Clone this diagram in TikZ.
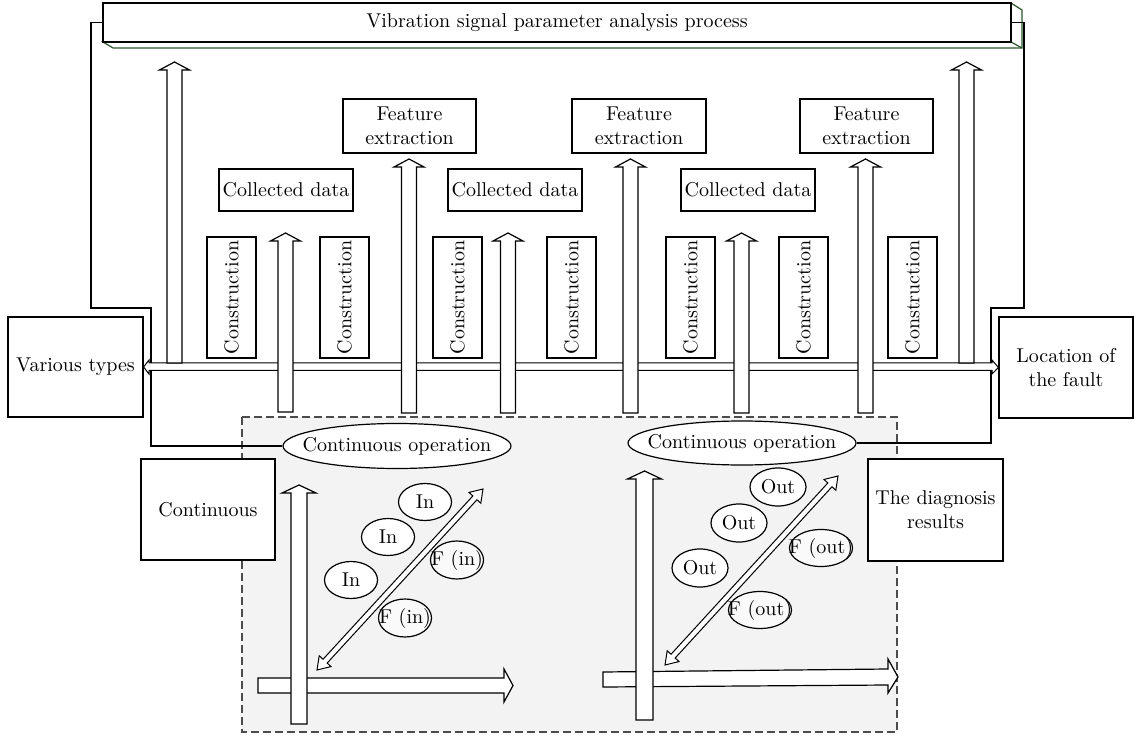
\documentclass[tikz,border=0pt]{standalone}
\usetikzlibrary{shapes.geometric,calc}
\definecolor{panelgray}{RGB}{243,243,243}
\definecolor{depthgreen}{RGB}{45,85,45}
\newcommand\vblock[5]{% cx, tip y, bottom y, half shaft, half head
  \draw[blockarrow] ({#1-#4},#3) -- ({#1-#4},{#2+8}) -- ({#1-#5},{#2+8}) -- (#1,#2) -- ({#1+#5},{#2+8}) -- ({#1+#4},{#2+8}) -- ({#1+#4},#3) -- cycle;}
\newcommand\diagarrow[2]{% double headed thin arrow between two named coordinates
  \draw[blockarrow,line width=0.5pt]
    (#1) -- ($($(#1)!6pt!(#2)$)!4pt!90:(#2)$) -- ($($(#1)!6pt!(#2)$)!1.4pt!90:(#2)$)
    -- ($($(#2)!6pt!(#1)$)!1.4pt!-90:(#1)$) -- ($($(#2)!6pt!(#1)$)!4pt!-90:(#1)$)
    -- (#2) -- ($($(#2)!6pt!(#1)$)!4pt!90:(#1)$) -- ($($(#2)!6pt!(#1)$)!1.4pt!90:(#1)$)
    -- ($($(#1)!6pt!(#2)$)!1.4pt!-90:(#2)$) -- ($($(#1)!6pt!(#2)$)!4pt!-90:(#2)$) -- cycle;}
\begin{document}
\begin{tikzpicture}[x=0.5pt,y=-0.5pt,
  every node/.style={font=\fontsize{10}{12}\selectfont},
  box/.style={draw,fill=white,line width=0.6pt,inner sep=0pt,align=center},
  sz/.style 2 args={minimum width=#1*0.5pt,minimum height=#2*0.5pt},
  ell/.style={draw,ellipse,fill=white,line width=0.6pt,inner sep=0pt},
  conn/.style={draw,line width=0.6pt},
  blockarrow/.style={draw,fill=white,line width=0.6pt,line join=miter}]
\useasboundingbox (0,0) rectangle (1134,737);

% dashed panel
\draw[line width=0.6pt,dash pattern=on 4pt off 2pt,fill=panelgray,draw=black!70] (242,417) rectangle (897,732);

% top 3D bar
\draw[depthgreen,line width=0.6pt,fill=white] (103,42) -- (113,48) -- (1022,48) -- (1022,10) -- (1011,3) -- (1011,42) -- cycle;
\draw[depthgreen,line width=0.6pt] (1011,42) -- (1022,48);
\node[box,sz={908}{39}] (bar) at (557,22.5) {Vibration signal parameter analysis process};

% side boxes
\node[box,sz={135}{100}] (vt) at (75.5,367) {Various types};
\node[box,sz={134}{101}] (loc) at (1066,367.5) {Location of\\the fault};

% ellipses continuous operation
\node[ell,sz={228}{45}] (ell1) at (397,446) {\makebox[0pt]{Continuous operation}};
\node[ell,sz={228}{44}] (ell2) at (742,443) {\makebox[0pt]{Continuous operation}};

% connector lines
\draw[conn] (bar.west) -- (91,22.5) -- (91,308) -- (151,308) |- (ell1.west);
\draw[conn] (bar.east) -- (1024,22.5) -- (1024,308) -- (991,308) |- (ell2.east);

% double line arrow between side boxes
\draw[blockarrow,line width=0.5pt] (vt.east) -- (149,360) -- (149,363) -- (992,363) -- (992,360) -- (loc.west) -- (992,374) -- (992,370.5) -- (149,370.5) -- (149,374) -- cycle;

% vertical block arrows
\vblock{174.5}{62}{363}{7.5}{15}
\vblock{285.5}{233}{412}{7.5}{15}
\vblock{409}{159}{413}{7.5}{15}
\vblock{508}{233}{413}{7.5}{15}
\vblock{630.5}{159}{413}{7.5}{15}
\vblock{741.5}{233}{413}{7.5}{15}
\vblock{865.5}{159}{413}{7.5}{15}
\vblock{966.5}{62}{363}{7.5}{15}

% feature extraction boxes
\node[box,sz={133}{54}] (fe1) at (409.5,126) {Feature\\extraction};
\node[box,sz={134}{54}] (fe2) at (639,126) {Feature\\extraction};
\node[box,sz={133}{54}] (fe3) at (866.5,126) {Feature\\extraction};

% collected data boxes
\node[box,sz={134}{42}] (cd1) at (286,190) {Collected data};
\node[box,sz={134}{42}] (cd2) at (515,190) {Collected data};
\node[box,sz={134}{42}] (cd3) at (748,190) {Collected data};

% construction boxes
\foreach \cx [count=\i] in {231.5,344.5,457.5,571.5,690.5,803.5,912.5}
  \node[box,sz={49}{121},rotate=90,minimum width=60.5pt,minimum height=24.5pt] (con\i) at (\cx,297.5) {Construction};

% lower boxes
\node[box,sz={134}{101}] (cont) at (208,509.5) {Continuous};
\node[box,sz={135}{102}] (diag) at (935.5,510) {The diagnosis\\results};

% left panel axes
\draw[blockarrow] (258,678) -- (504,678) -- (504,669) -- (513,685.5) -- (504,702) -- (504,693) -- (258,693) -- cycle;
\vblock{299}{485}{724}{8}{17}
\coordinate (la) at (317,670);
\coordinate (lb) at (483,489);
\diagarrow{la}{lb}

\node[ell,sz={53}{37}] (in1) at (425,502) {\makebox[0pt]{In}};
\node[ell,sz={53}{37}] (in2) at (388,537) {\makebox[0pt]{In}};
\node[ell,sz={53}{37}] (in3) at (351,580) {\makebox[0pt]{In}};
\node[ell,sz={53}{38},fill opacity=0.6,text opacity=1] (fin1) at (457,560) {\makebox[0pt]{F (in)}};
\node[ell,sz={53}{38},fill opacity=0.6,text opacity=1] (fin2) at (405,618) {\makebox[0pt]{F (in)}};

% right panel axes
\draw[blockarrow] (603,672) -- (888,669) -- (888,659) -- (898,677) -- (888,693) -- (888,685) -- (603,687) -- cycle;
\vblock{644.5}{471}{720}{8.5}{17}
\coordinate (ra) at (665,665);
\coordinate (rb) at (838,476);
\diagarrow{ra}{rb}

\node[ell,sz={56}{38}] (out1) at (778,487) {\makebox[0pt]{Out}};
\node[ell,sz={56}{38}] (out2) at (739,523) {\makebox[0pt]{Out}};
\node[ell,sz={56}{38}] (out3) at (700,568) {\makebox[0pt]{Out}};
\node[ell,sz={63}{37},fill opacity=0.6,text opacity=1] (fout1) at (821,548) {\makebox[0pt]{F (out)}};
\node[ell,sz={63}{37},fill opacity=0.6,text opacity=1] (fout2) at (760,610) {\makebox[0pt]{F (out)}};
\end{tikzpicture}
\end{document}
